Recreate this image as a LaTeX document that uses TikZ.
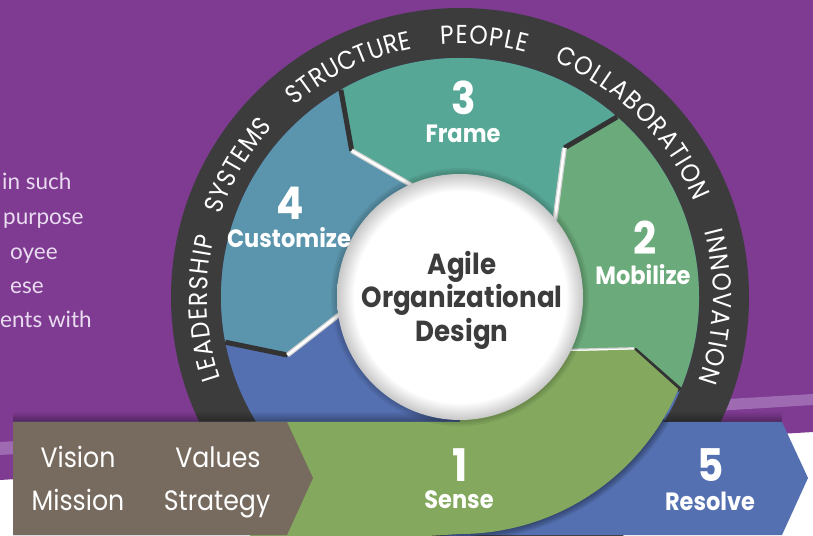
\documentclass[tikz,border=0pt]{standalone}
\usepackage{fontspec}
\setmainfont{Poppins}
\newfontfamily\condfont[FakeStretch=0.9]{Poppins}
\newfontfamily\latofont{Lato}
\usetikzlibrary{decorations.text,fadings}
\definecolor{bgpurple}{HTML}{7F3B92}
\definecolor{stripecol}{HTML}{9E6BB3}
\definecolor{ringdark}{HTML}{3C3C3C}
\definecolor{custcol}{HTML}{5B95AD}
\definecolor{framecol}{HTML}{57A796}
\definecolor{mobcol}{HTML}{6BAA7A}
\definecolor{sensecol}{HTML}{83A85E}
\definecolor{bluecol}{HTML}{5470B1}
\definecolor{browncol}{HTML}{776B5F}
\definecolor{lefttext}{HTML}{EADCF0}
\pgfdeclareradialshading{wcirc}{\pgfpoint{0bp}{0bp}}{color(0bp)=(white); color(21.5bp)=(white); color(25bp)=(black!22); color(50bp)=(black!22)}
\newcommand{\ringstyle}{\condfont\fontsize{26pt}{26pt}\selectfont\color{white}}
\begin{document}
\begin{tikzpicture}[x=1pt,y=1pt,
  banddark/.style={line width=5pt, draw=black!80, line cap=butt},
  bandlight/.style={line width=5pt, draw=black!18, line cap=butt},
  bandwhite/.style={line width=2.5pt, draw=white, line cap=butt},
  numtext/.style={text=white, font=\condfont\bfseries\fontsize{45pt}{45pt}\selectfont, anchor=base, inner sep=0pt},
  labtext/.style={text=white, font=\condfont\bfseries\fontsize{25pt}{25pt}\selectfont, anchor=base, inner sep=0pt},
  centertext/.style={text=ringdark, font=\condfont\bfseries\fontsize{29pt}{29pt}\selectfont, anchor=base, inner sep=0pt},
  bantext/.style={text=white, font=\condfont\fontsize{28pt}{28pt}\selectfont, anchor=base, inner sep=0pt},
  sidetext/.style={text=lefttext, font=\latofont\fontsize{22.5pt}{22.5pt}\selectfont, anchor=base west, inner sep=0pt},
  ringword/.style={decorate, decoration={text along path, text={|\ringstyle|#1}, text align={fit to path=true}}}
  ]
\useasboundingbox (0,0) rectangle (813,535);
\clip (0,0) rectangle (813,535);
% background
\fill[white] (0,0) rectangle (813,535);
\fill[bgpurple] (0,55) -- (813,103) -- (813,535) -- (0,535) -- cycle;
\fill[stripecol] (0,80) -- (813,130) -- (813,141) -- (0,93) -- cycle;
% left text
\node[sidetext] (l1) at (2,345) {in such};
\node[sidetext] (l2) at (3,310) {purpose};
\node[sidetext] (l3) at (10,275) {oyee};
\node[sidetext] (l4) at (10,241) {ese};
\node[sidetext] (l5) at (0,207) {ents with};
% wheel
\begin{scope}[shift={(460,238)}]
  \coordinate (C) at (0,0);
  \fill[ringdark] (C) circle (289);
  \fill[bluecol] (C) circle (239);
  % Mobilize
  \fill[mobcol] (-26.4:122) -- (-16.8:182) -- (-22.9:239) arc[start angle=-22.9,end angle=48.9,radius=239] -- (55:182) -- (39:122) arc[start angle=39,end angle=-26.4,radius=122] -- cycle;
  % Frame
  \fill[framecol] (39:122) -- (55:182) -- (48.9:239) arc[start angle=48.9,end angle=119.9,radius=239] -- (126.5:182) -- (113.5:122) arc[start angle=113.5,end angle=39,radius=122] -- cycle;
  % Customize
  \fill[custcol] (113.5:122) -- (126.5:182) -- (119.9:239) arc[start angle=119.9,end angle=190.9,radius=239] -- (198.6:182) -- (188.3:122) arc[start angle=188.3,end angle=113.5,radius=122] -- cycle;
  % boundary bands
  \foreach \o/\t/\i in {-22.9/-16.8/-26.4, 48.9/55/39, 119.9/126.5/113.5, 190.9/198.6/188.3}{
    \draw[banddark] (\o:239) -- (\t:182);
    \draw[bandlight] (\t:182) -- (\i:122);
    \draw[bandwhite] (\t:182) -- (\i:122);
  }
  % ring words
  \path[ringword=LEADERSHIP] (198.8:253) arc[start angle=198.8,end angle=166.3,radius=253];
  \path[ringword=SYSTEMS] (161:253) arc[start angle=161,end angle=137.7,radius=253];
  \path[ringword=STRUCTURE] (130.8:253) arc[start angle=130.8,end angle=100.9,radius=253];
  \path[ringword=PEOPLE] (94.4:253) arc[start angle=94.4,end angle=74.8,radius=253];
  \path[ringword=COLLABORATION] (68.2:253) arc[start angle=68.2,end angle=22.1,radius=253];
  \path[ringword=INNOVATION] (14.9:253) arc[start angle=14.9,end angle=-19.5,radius=253];
\end{scope}
% banner
\fill[black,opacity=.35,path fading=north] (13,113) rectangle (782,124);
\fill[bluecol] (13,113) -- (782,113) -- (808,57) -- (782,0) -- (13,0) -- cycle;
\begin{scope}[shift={(460,238)}]
  \foreach \w in {2,5,8,11,14}{
    \draw[black,opacity=0.08,line width=\w] (-31:237) arc[start angle=-31,end angle=-100,radius=237];
  }
  \fill[sensecol] (-26.4:122) -- (-16.8:182) -- (-22.9:237) arc[start angle=-22.9,end angle=-90,radius=237] -- (-210,-250) -- (-210,-125) -- (0,-125) -- (0,0) -- cycle;
\end{scope}
\fill[browncol] (13,113) -- (287,113) -- (313,57) -- (287,0) -- (13,0) -- cycle;
% center circle
\begin{scope}[shift={(460,238)}]
  \foreach \w in {4,8,12}{
    \draw[black,opacity=.06,line width=\w] (0,0) circle (123);
  }
  \shade[shading=wcirc] (0,0) circle (123);
\end{scope}
% labels
\node[centertext] (t1) at (462,260) {Agile};
\node[centertext] (t2) at (462,227) {Organizational};
\node[centertext] (t3) at (462,193) {Design};
\node[numtext] (n3) at (464,420) {3};
\node[labtext] (f3) at (463,392) {Frame};
\node[numtext] (n4) at (290,315) {4};
\node[labtext] (f4) at (289,287) {Customize};
\node[numtext] (n2) at (645,280) {2};
\node[labtext] (f2) at (643,250) {Mobilize};
\node[numtext] (n1) at (460,53) {1};
\node[labtext] (f1) at (459,27) {Sense};
\node[numtext] (n5) at (711,53) {5};
\node[labtext] (f5) at (710,25) {Resolve};
\node[bantext] (b1) at (78,67) {Vision};
\node[bantext] (b2) at (78,25) {Mission};
\node[bantext] (b3) at (218,67) {Values};
\node[bantext] (b4) at (217,25) {Strategy};
\end{tikzpicture}
\end{document}
